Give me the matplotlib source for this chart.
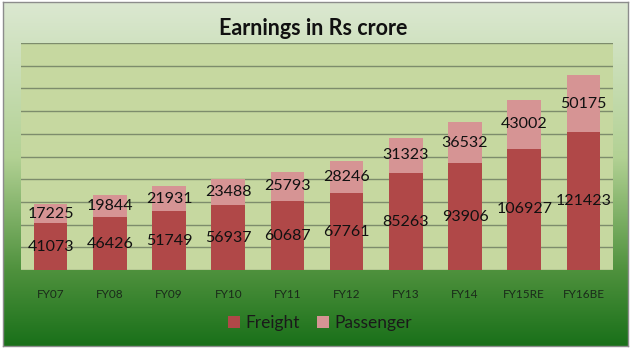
import numpy as np
import matplotlib.pyplot as plt
from matplotlib.colors import LinearSegmentedColormap

# Datos
years = ['FY07', 'FY08', 'FY09', 'FY10', 'FY11', 'FY12', 'FY13', 'FY14', 'FY15RE', 'FY16BE']
freight = [41073, 46426, 51749, 56937, 60687, 67761, 85263, 93906, 106927, 121423]
passenger = [17225, 19844, 21931, 23488, 25793, 28246, 31323, 36532, 43002, 50175]

plt.rcParams['font.family'] = ['Lato', 'DejaVu Sans']

fig = plt.figure(figsize=(6.4, 3.6), dpi=100)
fig.patch.set_facecolor('white')

# Fondo degradado del gráfico
bg = fig.add_axes([0.004, 0.039, 0.978, 0.955])
cmap = LinearSegmentedColormap.from_list('bg', [
    (0.0, (0.86, 0.91, 0.82)),
    (0.45, (0.70, 0.82, 0.58)),
    (0.78, (0.31, 0.57, 0.24)),
    (1.0, (0.10, 0.44, 0.10)),
])
grad = np.linspace(0, 1, 256).reshape(-1, 1)
bg.imshow(grad, aspect='auto', cmap=cmap, extent=[0, 1, 0, 1], origin='upper')
bg.set_xlim(0, 1)
bg.set_ylim(0, 1)
bg.set_xticks([])
bg.set_yticks([])
for s in bg.spines.values():
    s.set_color('#8c8c8c')
    s.set_linewidth(1.0)

# Ejes principales
ax = fig.add_axes([21 / 640, 90 / 360, 592 / 640, 227 / 360])
ax.set_facecolor('#c6d8a0')
x = np.arange(len(years))
width = 0.57
b1 = ax.bar(x, freight, width, color='#b04848', label='Freight', zorder=3)
b2 = ax.bar(x, passenger, width, bottom=freight, color='#d69494', label='Passenger', zorder=3)

ax.set_xlim(-0.5, len(years) - 0.5)
ax.set_ylim(0, 200000)
ax.set_yticks(np.arange(0, 200001, 20000))
ax.yaxis.grid(True, color='#7d8c6c', linewidth=1.0, zorder=1)
ax.tick_params(axis='y', left=False, labelleft=False)
ax.tick_params(axis='x', bottom=False, pad=10, labelsize=8.5, colors='#1a2a1a')
ax.set_xticks(x)
ax.set_xticklabels(years)
for s in ax.spines.values():
    s.set_visible(False)

for i in range(len(years)):
    ax.text(x[i], freight[i] / 2, str(freight[i]), ha='center', va='center',
            fontsize=11.5, color='#111111', zorder=4)
    ax.text(x[i], freight[i] + passenger[i] / 2, str(passenger[i]), ha='center', va='center',
            fontsize=11.5, color='#111111', zorder=4)

fig.text(0.49, 0.922, 'Earnings in Rs crore', ha='center', va='center',
         fontsize=15.5, fontweight='bold', color='#111111')

fig.legend(handles=[b1, b2], labels=['Freight', 'Passenger'], loc='center',
           bbox_to_anchor=(0.50, 0.103), ncol=2, frameon=False, fontsize=12.5,
           handlelength=0.7, handleheight=0.7, handletextpad=0.3, columnspacing=1.0,
           labelcolor='#1a1a1a')

plt.savefig('out.png', dpi=100)
